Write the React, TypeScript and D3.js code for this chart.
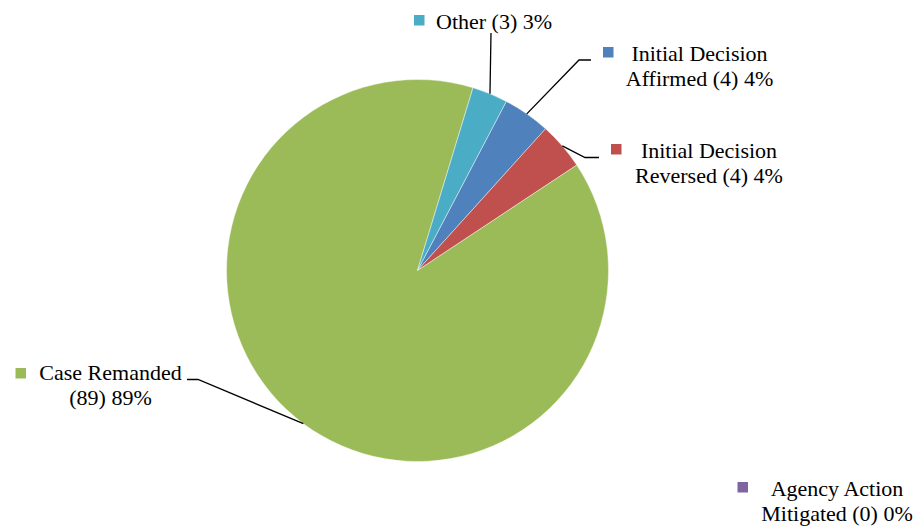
import React from "react";
import * as d3 from "d3";

// slice order follows the source sheet, clockwise from the start angle
const categories = [
  "Initial Decision Affirmed",
  "Initial Decision Reversed",
  "Case Remanded",
  "Agency Action Mitigated",
  "Other",
];
const counts = [4, 4, 89, 0, 3];
const percents = [4, 4, 89, 0, 3];
const colors = ["#4F81BD", "#C0504D", "#9BBB59", "#8064A2", "#4BACC6"];

type Slice = { name: string; count: number; pct: number; color: string };

// label placement (layout only): text centre, first baseline, marker, leader elbow
type LabelLayout = {
  split: number; // words on first line (0 = single line)
  cx: number;
  y: number;
  marker: [number, number];
  elbow?: [number, number][];
};

const font = "'Liberation Serif', serif";

export default function App() {
  const width = 919;
  const height = 527;
  const cx = 417.5;
  const cy = 270.5;
  const r = 191;

  const data: Slice[] = categories.map((name, i) => ({
    name,
    count: counts[i],
    pct: percents[i],
    color: colors[i],
  }));

  const startAngle = (27.7 * Math.PI) / 180;
  const pie = d3
    .pie<Slice>()
    .sort(null)
    .value((d) => d.count)
    .startAngle(startAngle)
    .endAngle(startAngle + 2 * Math.PI);
  const arcs = pie(data);
  const arc = d3.arc<d3.PieArcDatum<Slice>>().innerRadius(0).outerRadius(r);

  const edge = (a: d3.PieArcDatum<Slice>): [number, number] => {
    const m = (a.startAngle + a.endAngle) / 2;
    return [cx + r * Math.sin(m), cy - r * Math.cos(m)];
  };

  const layout: Record<string, LabelLayout> = {
    Other: {
      split: 0,
      cx: 436,
      y: 29,
      marker: [414, 15],
      elbow: [[491, 33]],
    },
    "Initial Decision Affirmed": {
      split: 2,
      cx: 699.5,
      y: 61,
      marker: [603, 47],
      elbow: [
        [579, 60],
        [591, 60],
      ],
    },
    "Initial Decision Reversed": {
      split: 2,
      cx: 709,
      y: 158,
      marker: [611, 144],
      elbow: [
        [585, 157.5],
        [599, 157.5],
      ],
    },
    "Case Remanded": {
      split: 2,
      cx: 110.5,
      y: 379.5,
      marker: [15.5, 368],
      elbow: [
        [198, 379.5],
        [187, 379.5],
      ],
    },
    "Agency Action Mitigated": {
      split: 2,
      cx: 837,
      y: 496,
      marker: [737.5, 482],
    },
  };

  const labelLines = (d: Slice, split: number): string[] => {
    const tail = `(${d.count}) ${d.pct}%`;
    if (split === 0) return [`${d.name} ${tail}`];
    const words = d.name.split(" ");
    const first = words.slice(0, split).join(" ");
    const rest = words.slice(split).join(" ");
    return [first, rest ? `${rest} ${tail}` : tail];
  };

  return (
    <svg
      width={width}
      height={height}
      style={{ position: "absolute", left: 0, top: 0, background: "#fff" }}
    >
      <g>
        {arcs.map((a, i) =>
          a.data.count > 0 ? (
            <path
              key={i}
              d={arc(a) ?? ""}
              transform={`translate(${cx},${cy})`}
              fill={a.data.color}
              stroke="#ffffff"
              strokeWidth={0.6}
              strokeOpacity={0.7}
            />
          ) : null
        )}
      </g>
      <g>
        {arcs.map((a, i) => {
          const L = layout[a.data.name];
          if (!L.elbow || a.data.count === 0) return null;
          const pts = [edge(a), ...L.elbow];
          return (
            <polyline
              key={i}
              points={pts.map((p) => p.join(",")).join(" ")}
              fill="none"
              stroke="#000"
              strokeWidth={1.3}
            />
          );
        })}
      </g>
      <g fontFamily={font} fontSize={22} fill="#000">
        {data.map((d, i) => {
          const L = layout[d.name];
          const lines = labelLines(d, L.split);
          return (
            <g key={i}>
              <rect
                x={L.marker[0]}
                y={L.marker[1]}
                width={10.5}
                height={10.5}
                fill={d.color}
              />
              {lines.map((t, j) => (
                <text
                  key={j}
                  x={L.cx}
                  y={L.y + j * 25}
                  textAnchor={L.split === 0 ? "start" : "middle"}
                >
                  {t}
                </text>
              ))}
            </g>
          );
        })}
      </g>
    </svg>
  );
}
